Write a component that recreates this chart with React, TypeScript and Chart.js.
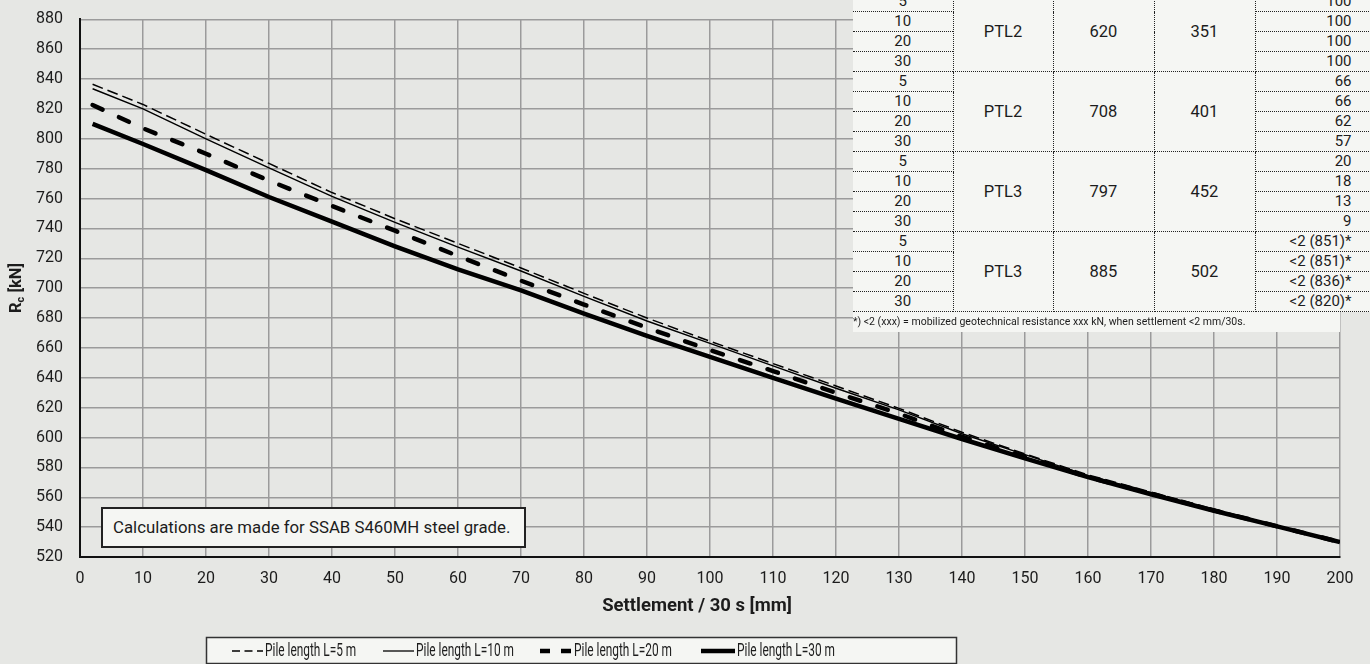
import React, { useEffect, useRef } from "react";
import { Chart, registerables } from "chart.js";

Chart.register(...registerables);

// ---------- data ----------
const settlement = [2, 10, 20, 30, 40, 50, 60, 70, 80, 90, 100, 110, 120, 130, 140, 150, 160, 170, 180, 190, 200];
const pile5 = [836.5, 823, 803, 783.5, 764, 746.5, 730, 713.5, 696.5, 680, 664.5, 649.5, 634.5, 619.5, 603.5, 589, 575, 563.5, 552, 541, 530];
const pile10 = [833.5, 820, 800, 780.5, 761.5, 744, 727.5, 711.5, 694.5, 678, 663, 648, 633, 618.5, 602.5, 588.5, 574.5, 563, 551.5, 540.8, 530];
const pile20 = [822.6, 807, 790, 772, 755, 738.5, 721.5, 705, 689, 673.5, 658.5, 644.5, 630, 616, 600.5, 587, 573.5, 562.5, 551.2, 540.6, 530];
const pile30 = [810, 796.5, 779, 761, 744.5, 728, 712.5, 698.5, 683, 668, 654, 640, 626, 612.5, 599, 586, 573.5, 562, 551, 540.5, 530];
const seriesLabels = ["Pile length L=5 m", "Pile length L=10 m", "Pile length L=20 m", "Pile length L=30 m"];

const xMin = 0, xMax = 200, xStep = 10;
const yMin = 520, yMax = 880, yStep = 20;

const xTitle = "Settlement / 30 s [mm]";
const noteText = "Calculations are made for SSAB S460MH steel grade.";
const footnote = "*) <2 (xxx) = mobilized geotechnical resistance xxx kN, when settlement <2 mm/30s.";

const tableLengths = ["5", "10", "20", "30"];
const tableTypes = ["PTL2", "PTL2", "PTL3", "PTL3"];
const tableColA = ["620", "708", "797", "885"];
const tableColB = ["351", "401", "452", "502"];
const tableValues = [
  ["100", "100", "100", "100"],
  ["66", "66", "62", "57"],
  ["20", "18", "13", "9"],
  ["<2 (851)*", "<2 (851)*", "<2 (836)*", "<2 (820)*"],
];

// ---------- styles ----------
const BG = "#e6e7e4";
const LIGHT = "#f5f6f3";
const TEXT = "#1c1c1c";
const FONT = "Roboto";

const AREA_TOP = 19.3;
const AREA_BOTTOM = 557;

const seriesStyles = [
  { width: 1.5, dash: [11, 5], cap: "butt" },
  { width: 1.4, dash: [], cap: "butt" },
  { width: 4.5, dash: [11, 18], cap: "round" },
  { width: 4.5, dash: [], cap: "butt" },
];

const legendItems = [
  { x: 232, w: 31, dash: [8, 4.5], lw: 1.3 },
  { x: 383, w: 31, dash: [], lw: 1.3 },
  { x: 540, w: 32, dash: [10, 11], lw: 4.5 },
  { x: 701, w: 34, dash: [], lw: 4.5 },
];

const decorPlugin = {
  id: "decor",
  afterDraw(chart: any) {
    const ctx: CanvasRenderingContext2D = chart.ctx;
    // y title with subscript
    ctx.save();
    ctx.translate(17, 288);
    ctx.rotate(-Math.PI / 2);
    ctx.fillStyle = TEXT;
    ctx.textBaseline = "middle";
    ctx.textAlign = "left";
    const f1 = `bold 16.5px ${FONT}`;
    const f2 = `bold 11px ${FONT}`;
    ctx.font = f1;
    const wR = ctx.measureText("R").width;
    const wRest = ctx.measureText(" [kN]").width;
    ctx.font = f2;
    const wc = ctx.measureText("c").width;
    let x = -(wR + wc + wRest) / 2;
    ctx.font = f1;
    ctx.fillText("R", x, 0);
    x += wR;
    ctx.font = f2;
    ctx.fillText("c", x, 4);
    x += wc;
    ctx.font = f1;
    ctx.fillText(" [kN]", x, 0);
    ctx.restore();

    // x title
    ctx.save();
    ctx.fillStyle = TEXT;
    ctx.font = `bold 18.5px ${FONT}`;
    ctx.textAlign = "center";
    ctx.textBaseline = "middle";
    ctx.fillText(xTitle, 697, 606);
    ctx.restore();

    // legend
    ctx.save();
    ctx.fillStyle = LIGHT;
    ctx.fillRect(206.5, 637.5, 750, 26);
    ctx.strokeStyle = "#333";
    ctx.lineWidth = 1.5;
    ctx.strokeRect(206.5, 637.5, 750, 26);
    legendItems.forEach((it, i) => {
      const y = 651;
      ctx.beginPath();
      ctx.setLineDash(it.dash);
      ctx.lineWidth = it.lw;
      ctx.strokeStyle = "#000";
      ctx.moveTo(it.x, y);
      ctx.lineTo(it.x + it.w, y);
      ctx.stroke();
      ctx.setLineDash([]);
      ctx.save();
      ctx.translate(it.x + it.w + 2, y);
      ctx.scale(0.66, 1);
      ctx.fillStyle = TEXT;
      ctx.font = `18px ${FONT}`;
      ctx.textAlign = "left";
      ctx.textBaseline = "middle";
      ctx.fillText(seriesLabels[i], 0, 0);
      ctx.restore();
    });
    ctx.restore();
  },
};

function ChartCanvas() {
  const ref = useRef<HTMLCanvasElement | null>(null);
  useEffect(() => {
    document.body.style.margin = "0";
    const series = [pile5, pile10, pile20, pile30];
    let xHeight = 664 - AREA_BOTTOM;
    const chart = new Chart(ref.current as HTMLCanvasElement, {
      type: "line",
      data: {
        datasets: series.map((arr, i) => ({
          label: seriesLabels[i],
          data: settlement.map((s, j) => ({ x: s, y: arr[j] })),
          borderColor: "#000",
          backgroundColor: "#000",
          borderWidth: seriesStyles[i].width,
          borderDash: seriesStyles[i].dash,
          borderCapStyle: seriesStyles[i].cap as CanvasLineCap,
          pointRadius: 0,
          tension: 0,
          fill: false,
        })),
      },
      options: {
        animation: false,
        responsive: false,
        devicePixelRatio: 1,
        layout: { padding: { top: AREA_TOP, right: 30, bottom: 0, left: 0 } },
        plugins: { legend: { display: false }, tooltip: { enabled: false } },
        scales: {
          x: {
            type: "linear",
            min: xMin,
            max: xMax,
            afterFit: (s: any) => {
              s.height = xHeight;
            },
            ticks: { stepSize: xStep, color: TEXT, font: { family: FONT, size: 16 }, padding: 12, maxRotation: 0 },
            grid: { color: "#9b9b9b", lineWidth: 1.5, drawTicks: false },
            border: { display: true, color: "#111", width: 2 },
          },
          y: {
            type: "linear",
            min: yMin,
            max: yMax,
            afterFit: (s: any) => {
              s.width = 80;
              s.paddingTop = 0;
              s.paddingBottom = 0;
            },
            ticks: { stepSize: yStep, color: TEXT, font: { family: FONT, size: 16 }, padding: 17 },
            grid: { color: "#9b9b9b", lineWidth: 1.5, drawTicks: false },
            border: { display: true, color: "#111", width: 2 },
          },
        },
      },
      plugins: [decorPlugin],
    });
    for (let k = 0; k < 4; k++) {
      const a = chart.chartArea;
      const dt = a.top - AREA_TOP;
      const db = a.bottom - AREA_BOTTOM;
      if (Math.abs(dt) < 0.2 && Math.abs(db) < 0.2) break;
      const p = (chart.options.layout as any).padding;
      p.top = p.top - dt;
      xHeight = xHeight + db;
      chart.update();
    }
    return () => chart.destroy();
  }, []);
  return <canvas ref={ref} width={1370} height={664} style={{ position: "absolute", left: 0, top: 0 }} />;
}

const cellBase: React.CSSProperties = {
  border: "1px dotted #222",
  padding: 0,
  height: 19,
  lineHeight: "19px",
  textAlign: "center",
  fontSize: 15,
  verticalAlign: "bottom",
  whiteSpace: "nowrap",
  overflow: "hidden",
};

function DataTable() {
  return (
    <div style={{ position: "absolute", left: 853, top: -9, width: 517, fontFamily: FONT, color: TEXT, overflow: "hidden" }}>
      <table style={{ borderCollapse: "collapse", tableLayout: "fixed", width: 535, background: LIGHT }}>
        <colgroup>
          <col style={{ width: 100 }} />
          <col style={{ width: 100 }} />
          <col style={{ width: 101 }} />
          <col style={{ width: 101 }} />
          <col style={{ width: 133 }} />
        </colgroup>
        <tbody>
          {tableTypes.map((t, g) =>
            tableLengths.map((len, i) => (
              <tr key={`${g}-${i}`}>
                <td style={{ ...cellBase, borderLeft: "none" }}>{len}</td>
                {i === 0 && (
                  <>
                    <td rowSpan={4} style={{ ...cellBase, fontSize: 16.5, verticalAlign: "middle" }}>{t}</td>
                    <td rowSpan={4} style={{ ...cellBase, fontSize: 16.5, verticalAlign: "middle" }}>{tableColA[g]}</td>
                    <td rowSpan={4} style={{ ...cellBase, fontSize: 16.5, verticalAlign: "middle" }}>{tableColB[g]}</td>
                  </>
                )}
                <td style={{ ...cellBase, textAlign: "right", paddingRight: 36 }}>{tableValues[g][i]}</td>
              </tr>
            ))
          )}
        </tbody>
      </table>
      <div style={{ width: 487, height: 20, background: LIGHT, fontSize: 10.5, lineHeight: "20px", whiteSpace: "nowrap" }}>{footnote}</div>
    </div>
  );
}

export default function App() {
  return (
    <div style={{ position: "relative", width: 1370, height: 664, background: BG, overflow: "hidden" }}>
      <ChartCanvas />
      <div
        style={{
          position: "absolute",
          left: 101,
          top: 507,
          width: 425,
          height: 41,
          boxSizing: "border-box",
          border: "2px solid #222",
          background: LIGHT,
          fontFamily: FONT,
          fontSize: 16.8,
          color: TEXT,
          paddingLeft: 10,
          lineHeight: "37px",
          whiteSpace: "nowrap",
        }}
      >
        {noteText}
      </div>
      <DataTable />
    </div>
  );
}
